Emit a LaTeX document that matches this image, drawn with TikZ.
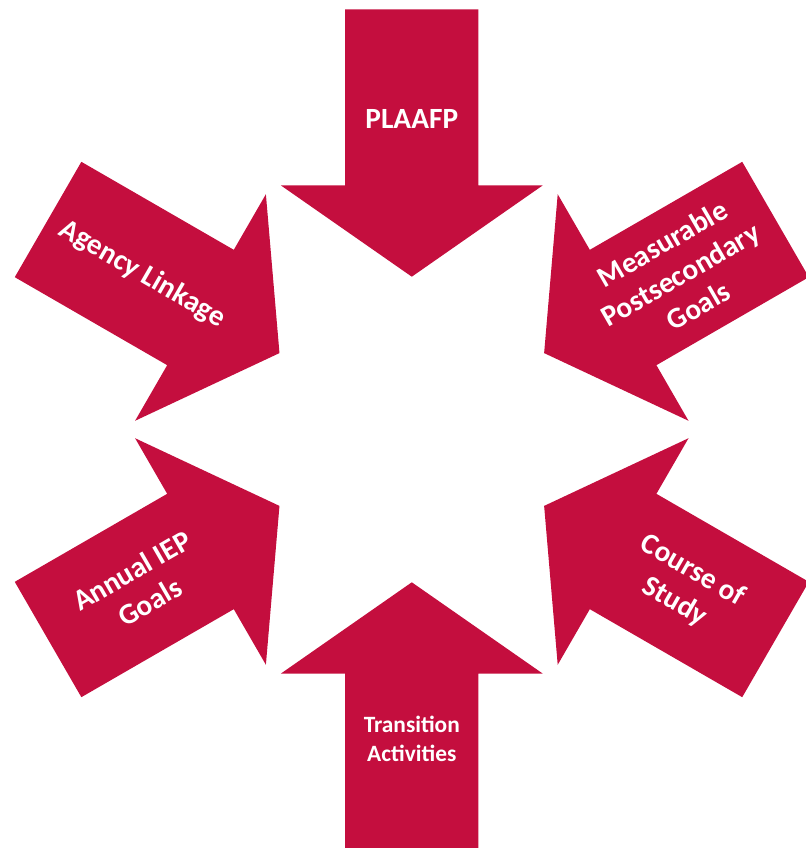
\documentclass[tikz,border=0pt]{standalone}
\usepackage{fontspec}
\setmainfont{Carlito}
\definecolor{arrowred}{RGB}{196,14,62}

\begin{document}
\begin{tikzpicture}[x=0.02cm,y=0.02cm,
  bigarrow/.pic={\fill[arrowred] (-66.6,420) -- (66.6,420) -- (66.6,244) -- (130.8,244)
      -- (0,152.8) -- (-130.8,244) -- (-66.6,244) -- cycle;},
  biglabel/.style={text=white,align=center,inner sep=0pt,
      font=\fontsize{16.7}{20.5}\selectfont\bfseries},
  smalllabel/.style={biglabel,font=\fontsize{13.3}{16.5}\selectfont\bfseries}]
\useasboundingbox (-411.8,-418.5) rectangle (393.2,429.5);
\pic at (0,0) {bigarrow};
\pic[rotate=-60] at (0,0) {bigarrow};
\pic[rotate=-120] at (0,0) {bigarrow};
\pic[rotate=180] at (0,0) {bigarrow};
\pic[rotate=120] at (0,0) {bigarrow};
\pic[rotate=60] at (0,0) {bigarrow};
\node[biglabel] (plaafp) at (90:311) {PLAAFP};
\node[biglabel,rotate=30] (goals) at (30:310) {Measurable\\Postsecondary\\Goals};
\node[biglabel,rotate=-30] (course) at (-30:314) {Course of\\Study};
\node[smalllabel] (transition) at (-90:309) {Transition\\Activities};
\node[biglabel,rotate=30] (iep) at (-150:313) {Annual IEP\\Goals};
\node[biglabel,rotate=-30] (agency) at (150:311) {Agency Linkage};
\end{tikzpicture}
\end{document}
